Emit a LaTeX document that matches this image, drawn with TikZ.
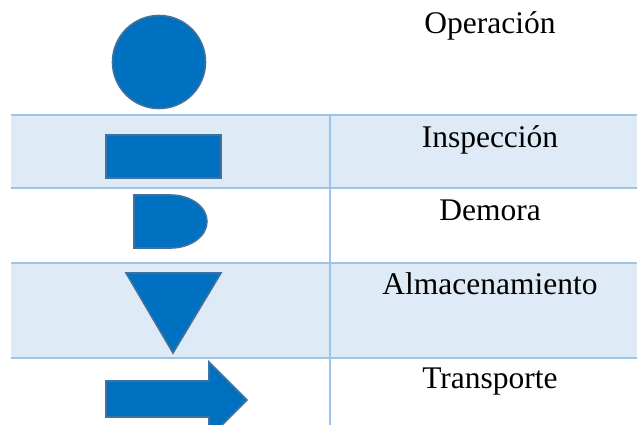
\documentclass[tikz,border=0pt]{standalone}
\usepackage{fontspec}
\setmainfont{Liberation Serif}
\definecolor{symblue}{HTML}{0070C0}
\definecolor{symedge}{HTML}{41719C}
\definecolor{bandfill}{HTML}{DEEAF6}
\definecolor{gridblue}{HTML}{9DC3E6}
\begin{document}
\begin{tikzpicture}[x=1pt,y=-1pt,
	symbol/.style={fill=symblue,draw=symedge,line width=1.6pt,line join=miter},
	band/.style={fill=bandfill},
	gridline/.style={draw=gridblue,line width=1.2pt},
	label/.style={anchor=base,inner sep=0pt,font=\fontsize{31.5}{36}\selectfont}]
	\useasboundingbox (0,0) rectangle (637,424);
	%table
		% shaded rows
		\fill[band] (11,115) rectangle (650,188);
		\fill[band] (11,263) rectangle (650,358);
		% rules
		\draw[gridline,line width=2.6pt] (11,115) -- (650,115);
		\draw[gridline] (11,188) -- (650,188);
		\draw[gridline] (11,263) -- (650,263);
		\draw[gridline] (11,358) -- (650,358);
		\draw[gridline] (330,115) -- (330,430);
	%operation
		\draw[symbol] (159,62) circle (46.5);
	%inspection
		\draw[symbol] (106,135) rectangle (221,178);
	%delay
		\draw[symbol] (134,195) -- (170.5,195)
			arc[start angle=-90,end angle=90,x radius=36.5,y radius=26.5]
			-- (134,248) -- cycle;
	%storage
		\draw[symbol] (126,273) -- (221,273) -- (173,353) -- cycle;
	%transport
		\draw[symbol] (106,381) -- (209,381) -- (209,362) -- (247,400)
			-- (209,438) -- (209,417) -- (106,417) -- cycle;
	% labels
	\node[label] (op) at (490,33) {Operación};
	\node[label] (insp) at (490,147) {Inspección};
	\node[label] (dem) at (490,220) {Demora};
	\node[label] (alm) at (490,294) {Almacenamiento};
	\node[label] (trans) at (490,388) {Transporte};
\end{tikzpicture}
\end{document}
